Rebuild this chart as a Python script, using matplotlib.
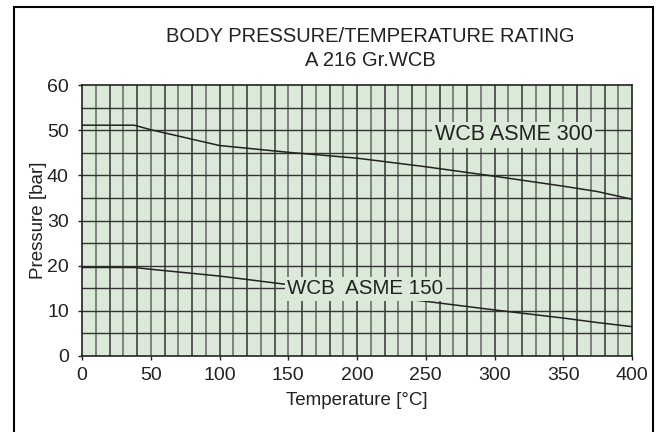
import matplotlib.pyplot as plt
from matplotlib.patches import Rectangle

plt.rcParams['font.family'] = ['Liberation Sans', 'DejaVu Sans']

# ASME B16.34 rating for WCB
temp = [0, 38, 50, 100, 150, 200, 250, 300, 325, 350, 375, 400]
p_300 = [51.1, 51.1, 50.1, 46.6, 45.1, 43.8, 41.9, 39.8, 38.7, 37.6, 36.4, 34.7]
p_150 = [19.6, 19.6, 19.2, 17.7, 15.8, 13.8, 12.1, 10.2, 9.3, 8.4, 7.4, 6.5]

x_ticks = [0, 50, 100, 150, 200, 250, 300, 350, 400]
y_ticks = [0, 10, 20, 30, 40, 50, 60]

bg = '#dbe9d8'
ink = '#222222'

fig = plt.figure(figsize=(6.6, 4.32), dpi=100)
ax = fig.add_axes([82 / 660, 1 - 356 / 432, 550 / 660, 271 / 432])
ax.set_facecolor(bg)

# grid: every 10 deg and every 5 bar
for i, x in enumerate(range(10, 400, 10)):
    ax.axvline(x, color='#333333' if i % 2 else '#666666', lw=1.1, zorder=1)
for y in range(5, 60, 5):
    ax.axhline(y, color='#333333', lw=1.0, zorder=1)

ax.plot(temp, p_300, color=ink, lw=1.1, zorder=2)
ax.plot(temp, p_150, color=ink, lw=1.1, zorder=2)

box = dict(boxstyle='square,pad=0.12', fc=bg, ec='none')
ax.text(314, 49.0, 'WCB ASME 300', fontsize=15.5, color=ink,
        ha='center', va='center', bbox=box, zorder=3)
ax.text(206, 14.9, 'WCB  ASME 150', fontsize=14.8, color=ink,
        ha='center', va='center', bbox=box, zorder=3)

ax.set_xlim(0, 400)
ax.set_ylim(0, 60)
ax.set_xticks(x_ticks)
ax.set_yticks(y_ticks)
ax.tick_params(length=3, width=1, color=ink, labelsize=14, labelcolor=ink)
ax.tick_params(axis='x', pad=5)
ax.tick_params(axis='y', pad=6.5)
for s in ax.spines.values():
    s.set_color(ink)
    s.set_linewidth(1.2)

ax.set_xlabel('Temperature [°C]', fontsize=13.5, color=ink, labelpad=6)
ax.set_ylabel('Pressure [bar]', fontsize=13.5, color=ink, labelpad=0)

fig.text(370 / 660, 1 - 36 / 432, 'BODY PRESSURE/TEMPERATURE RATING',
         fontsize=14.5, color=ink, ha='center', va='center')
fig.text(370 / 660, 1 - 60 / 432, 'A 216 Gr.WCB',
         fontsize=14.5, color=ink, ha='center', va='center')

# outer frame, open at the bottom edge
fig.patches.append(Rectangle((14 / 660, -0.05), 639 / 660, 1.05 - 7 / 432,
                             transform=fig.transFigure, fill=False,
                             ec='black', lw=1.5))

fig.savefig('out.png', dpi=100)
